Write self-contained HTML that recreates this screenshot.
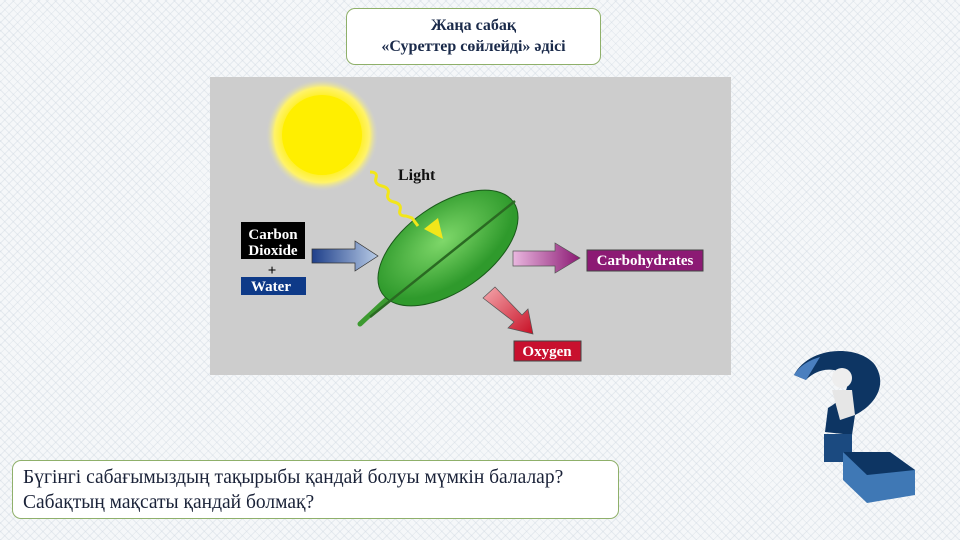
<!DOCTYPE html>
<html><head><meta charset="utf-8"><style>
html,body{margin:0;padding:0}
body{width:960px;height:540px;position:relative;overflow:hidden;
background:#f5f7f9;
background-image:repeating-linear-gradient(45deg,rgba(200,210,220,.35) 0 1px,transparent 1px 6px),repeating-linear-gradient(-45deg,rgba(200,210,220,.35) 0 1px,transparent 1px 6px);
font-family:"Liberation Serif",serif}
.box{position:absolute;background:#fff;border:1px solid #8fb06a;border-radius:9px}
</style></head><body>
<div class="box" style="left:346px;top:8px;width:255px;height:57px;text-align:center;font-weight:bold;color:#1a2a4a;font-size:16px;line-height:21px;padding-top:6px;box-sizing:border-box">Жаңа сабақ<br>«Суреттер сөйлейді» әдісі</div>

<svg style="position:absolute;left:210px;top:77px" width="521" height="298" viewBox="0 0 521 298">
<defs>
<radialGradient id="sun"><stop offset="0.6" stop-color="#ffee00"/><stop offset="0.85" stop-color="#fff36a"/><stop offset="1" stop-color="#d8d8c0" stop-opacity="0"/></radialGradient>
<linearGradient id="bl"><stop offset="0" stop-color="#1e3f8a"/><stop offset="1" stop-color="#b8cbe6"/></linearGradient>
<linearGradient id="pu"><stop offset="0" stop-color="#e9b7df"/><stop offset="1" stop-color="#8c1a74"/></linearGradient>
<linearGradient id="rd" x1="0" y1="0" x2="1" y2="1"><stop offset="0" stop-color="#f4a8ad"/><stop offset="1" stop-color="#c80f25"/></linearGradient>
<radialGradient id="lf" cx="0.5" cy="0.4"><stop offset="0" stop-color="#7fd86a"/><stop offset="1" stop-color="#2f9a2c"/></radialGradient>
</defs>
<rect width="521" height="298" fill="#cdcdcd"/>
<circle cx="112" cy="58" r="56" fill="url(#sun)"/>
<circle cx="112" cy="58" r="40" fill="#ffef00"/>
<text x="188" y="103" font-family="Liberation Serif" font-weight="bold" font-size="16" fill="#111">Light</text>
<path d="M150 247 L192 208" stroke="#3c9a30" stroke-width="5" stroke-linecap="round"/>
<ellipse cx="238" cy="171" rx="80" ry="43" transform="rotate(-35 238 171)" fill="url(#lf)" stroke="#1a5a1a" stroke-width="1"/>
<path d="M160 240 L305 124" stroke="#2a6a22" stroke-width="2.5"/>
<path d="M160 95 q8 0 6 6 t6 8 t6 8 t6 8 t6 8 t6 6 l6 2 l6 8" stroke="#f2e61a" stroke-width="3" fill="none"/>
<polygon points="233,162 214,152 228,141" fill="#f2e61a"/>
<rect x="31" y="145" width="64" height="37" fill="#000"/>
<text x="63" y="162" text-anchor="middle" font-family="Liberation Serif" font-weight="bold" font-size="15" fill="#fff">Carbon</text>
<text x="63" y="178" text-anchor="middle" font-family="Liberation Serif" font-weight="bold" font-size="15" fill="#fff">Dioxide</text>
<text x="62" y="198" text-anchor="middle" font-weight="bold" font-size="15" fill="#000">+</text>
<rect x="31" y="200" width="65" height="18" fill="#0e3a88"/>
<text x="61" y="214" text-anchor="middle" font-family="Liberation Serif" font-weight="bold" font-size="15" fill="#fff">Water</text>
<polygon points="102,172 145,172 145,164 168,179 145,194 145,186 102,186" fill="url(#bl)" stroke="#333" stroke-width="0.7"/>
<polygon points="303,174 345,174 345,166 370,181 345,196 345,189 303,189" fill="url(#pu)" stroke="#555" stroke-width="0.7"/>
<rect x="377" y="173" width="116" height="21" fill="#8c1a74" stroke="#444"/>
<text x="435" y="188" text-anchor="middle" font-family="Liberation Serif" font-weight="bold" font-size="15" fill="#fff">Carbohydrates</text>
<polygon points="273,221 285,210 312,238 318,232 323,257 298,251 304,245" fill="url(#rd)" stroke="#555" stroke-width="0.7"/>
<rect x="304" y="264" width="67" height="20" fill="#c8102e" stroke="#444"/>
<text x="337" y="279" text-anchor="middle" font-family="Liberation Serif" font-weight="bold" font-size="15" fill="#fff">Oxygen</text>
</svg>

<svg style="position:absolute;left:780px;top:340px" width="180" height="200">
<path d="M14 35 C30 5 80 5 95 25 C108 45 95 65 75 75 L72 95 L45 92 L48 68 C70 55 72 40 60 32 C45 25 30 35 26 40 Z" fill="#0d3563"/>
<path d="M14 35 C20 25 30 20 40 17 L26 40 Z" fill="#4a7fbf"/>
<rect x="44" y="94" width="28" height="28" fill="#1b4a80"/>
<polygon points="63,112 110,112 135,130 135,155 87,163 63,140" fill="#3f78b5"/>
<polygon points="63,112 110,112 135,130 87,135" fill="#0d3563"/>
<circle cx="62" cy="38" r="10" fill="#eee"/>
<path d="M52 50 L72 50 L75 75 L60 80 Z" fill="#e6e6e6"/>
</svg>

<div class="box" style="left:12px;top:460px;width:607px;height:59px;box-sizing:border-box;padding:4px 0 0 10px;font-size:19.5px;line-height:25px;color:#1a2238">Бүгінгі сабағымыздың тақырыбы қандай болуы мүмкін балалар?<br>Сабақтың мақсаты қандай болмақ?</div>
</body></html>
